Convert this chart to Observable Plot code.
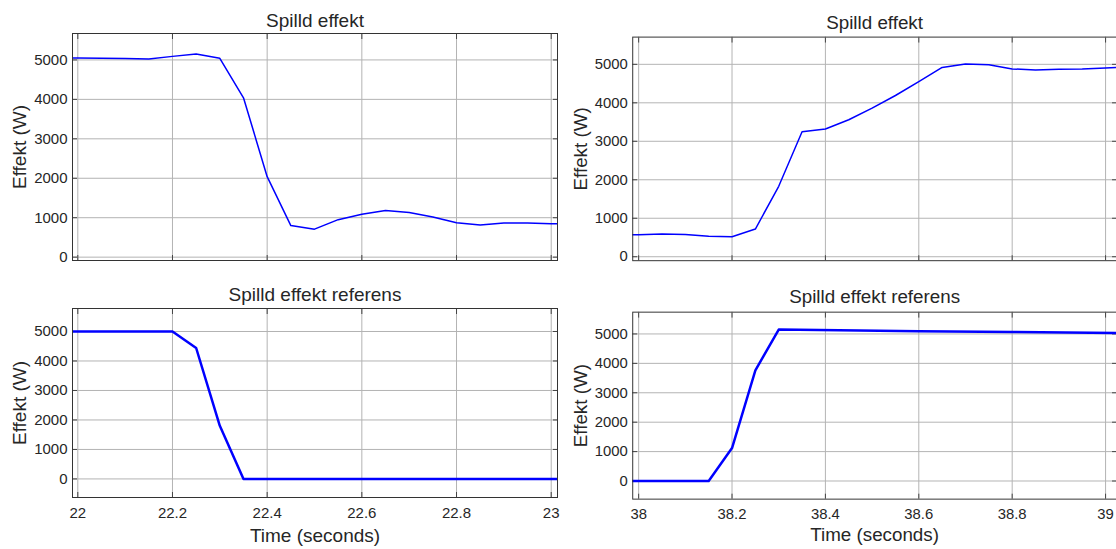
<!DOCTYPE html>
<html>
<head>
<meta charset="utf-8">
<script src="https://cdn.jsdelivr.net/npm/d3@7"></script>
<script src="https://cdn.jsdelivr.net/npm/@observablehq/plot@0.6"></script>
<style>
html, body { margin: 0; padding: 0; background: #fff; overflow: hidden; width: 1116px; height: 549px; }
#chart { position: relative; width: 1116px; height: 549px; overflow: hidden; }
.panel { position: absolute; }
.panel svg { overflow: visible; display: block; }
</style>
</head>
<body>
<div id="chart"></div>
<script>
// ---- text ----
const titleTop = "Spilld effekt";
const titleBottom = "Spilld effekt referens";
const yLabel = "Effekt (W)";
const xLabel = "Time (seconds)";

// ---- ticks ----
const yTicks = [0, 1000, 2000, 3000, 4000, 5000];
const xTicksLeft = [22, 22.2, 22.4, 22.6, 22.8, 23];
const xTicksRight = [38, 38.2, 38.4, 38.6, 38.8, 39];

// ---- series: top-left (Spilld effekt, 22–23 s) ----
const timeTopLeft = [21.95, 22.0, 22.05, 22.1, 22.15, 22.2, 22.25, 22.3, 22.35, 22.4, 22.45, 22.5,
  22.55, 22.6, 22.65, 22.7, 22.75, 22.8, 22.85, 22.9, 22.95, 23.0, 23.05];
const effektTopLeft = [5050, 5050, 5045, 5035, 5025, 5090, 5150, 5040, 4040, 2040, 800, 710,
  950, 1090, 1180, 1130, 1020, 870, 815, 865, 865, 845, 840];

// ---- series: top-right (Spilld effekt, 38–39 s) ----
const timeTopRight = [37.95, 38.0, 38.05, 38.1, 38.15, 38.2, 38.25, 38.3, 38.35, 38.4, 38.45, 38.5,
  38.55, 38.6, 38.65, 38.7, 38.75, 38.8, 38.85, 38.9, 38.95, 39.0, 39.05];
const effektTopRight = [570, 570, 590, 580, 530, 520, 720, 1830, 3250, 3320, 3560, 3860,
  4190, 4550, 4920, 5010, 4990, 4880, 4855, 4870, 4880, 4905, 4930];

// ---- series: bottom-left (Spilld effekt referens, 22–23 s) ----
const timeBottomLeft = [21.95, 22.2, 22.25, 22.3, 22.35, 23.05];
const effektBottomLeft = [5000, 5000, 4440, 1800, 0, 0];

// ---- series: bottom-right (Spilld effekt referens, 38–39 s) ----
const timeBottomRight = [37.95, 38.15, 38.2, 38.25, 38.3, 38.6, 38.8, 39.05];
const effektBottomRight = [0, 0, 1120, 3760, 5150, 5095, 5065, 5025];

const ink = "#262626";
const gridColor = "#b3b3b3";
const font = "'Liberation Sans', Arial, Helvetica, sans-serif";

function panel(o) {
  const data = o.time.map((t, i) => ({t, p: o.power[i]}));
  const marks = [
    Plot.gridX(o.xTicks, {stroke: gridColor, strokeOpacity: 1}),
    Plot.gridY(yTicks, {stroke: gridColor, strokeOpacity: 1}),
    Plot.axisY(yTicks, {anchor: "left", tickSize: 0, tickPadding: 5, tickFormat: d => String(d),
      fontSize: 15, fill: ink, label: null}),
    Plot.axisY(yTicks, {anchor: "left", tickSize: -5, tickFormat: () => "", label: null, stroke: "#444"}),
    Plot.axisY(yTicks, {anchor: "right", tickSize: -5, tickFormat: () => "", label: null, stroke: "#444"}),
    Plot.axisX(o.xTicks, {anchor: "bottom", tickSize: -5, tickFormat: () => "", label: null, stroke: "#444"}),
    Plot.axisX(o.xTicks, {anchor: "top", tickSize: -5, tickFormat: () => "", label: null, stroke: "#444"}),
    Plot.line(data, {x: "t", y: "p", stroke: "#0000ff", strokeWidth: o.sw, clip: true}),
    Plot.frame({stroke: "#333"}),
    Plot.text([o.title], {frameAnchor: "top", lineAnchor: "middle", textAnchor: "middle",
      dy: o.titleDy, fontSize: 19, fill: ink}),
    Plot.text([yLabel], {frameAnchor: "left", lineAnchor: "middle", textAnchor: "middle",
      dx: o.yLabelDx, rotate: -90, fontSize: 19, fill: ink})
  ];
  if (o.showX) {
    marks.push(
      Plot.axisX(o.xTicks, {anchor: "bottom", tickSize: 0, tickPadding: o.xPad,
        tickFormat: d => String(+d.toFixed(1)), fontSize: 15, fill: ink, label: null}),
      Plot.text([xLabel], {frameAnchor: "bottom", lineAnchor: "middle", textAnchor: "middle",
        dy: o.xLabelDy, fontSize: 19, fill: ink})
    );
  }
  const svg = Plot.plot({
    width: o.width, height: o.height,
    marginLeft: o.mL, marginRight: o.mR, marginTop: o.mT, marginBottom: o.mB,
    x: {domain: o.xDomain, axis: null},
    y: {domain: o.yDomain, axis: null},
    style: {fontFamily: font, fontSize: "15px", color: ink, background: "transparent", overflow: "visible"},
    marks
  });
  const div = document.createElement("div");
  div.className = "panel";
  div.style.left = o.left + "px";
  div.style.top = o.top + "px";
  div.appendChild(svg);
  document.getElementById("chart").appendChild(div);
}

panel({left: 0, top: 0, width: 558, height: 275, mL: 72, mR: 1, mT: 33, mB: 15,
  xDomain: [21.9888, 23.0133], yDomain: [-85, 5670], xTicks: xTicksLeft,
  time: timeTopLeft, power: effektTopLeft, sw: 1.5, title: titleTop, titleDy: -12.5,
  yLabelDx: -53, showX: false});

panel({left: 560, top: 0, width: 562, height: 275, mL: 73, mR: 0, mT: 37, mB: 12,
  xDomain: [37.9873, 39.0234], yDomain: [-103, 5708], xTicks: xTicksRight,
  time: timeTopRight, power: effektTopRight, sw: 1.5, title: titleTop, titleDy: -14.3,
  yLabelDx: -52, showX: false});

panel({left: 0, top: 280, width: 558, height: 269, mL: 72, mR: 1, mT: 28, mB: 52,
  xDomain: [21.9888, 23.0133], yDomain: [-630, 5780], xTicks: xTicksLeft,
  time: timeBottomLeft, power: effektBottomLeft, sw: 2.5, title: titleBottom, titleDy: -13.8,
  yLabelDx: -53, showX: true, xPad: 10, xLabelDy: 38});

panel({left: 560, top: 280, width: 562, height: 269, mL: 73, mR: 0, mT: 32, mB: 48,
  xDomain: [37.9873, 39.0234], yDomain: [-616, 5741], xTicks: xTicksRight,
  time: timeBottomRight, power: effektBottomRight, sw: 2.5, title: titleBottom, titleDy: -15.3,
  yLabelDx: -52, showX: true, xPad: 9, xLabelDy: 36.4});
</script>
</body>
</html>
